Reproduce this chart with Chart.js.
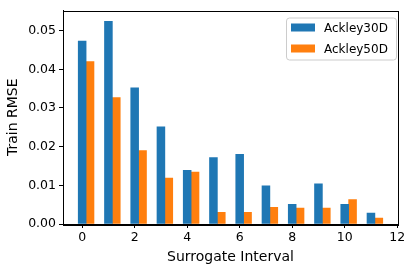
<!DOCTYPE html>
<html>
<head>
<meta charset="utf-8">
<script src="https://cdn.jsdelivr.net/npm/chart.js@4.4.0/dist/chart.umd.min.js"></script>
<style>
  html, body { margin: 0; padding: 0; background: #fff; }
  #wrap { width: 413px; height: 270px; }
</style>
</head>
<body>
<div id="wrap"><canvas id="grafico" width="413" height="270"></canvas></div>
<script>
// intervalos e erros
const intervalos = [0, 1, 2, 3, 4, 5, 6, 7, 8, 9, 10, 11];
const ackley30 = [0.0473, 0.0524, 0.0352, 0.0251, 0.0139, 0.0172, 0.0180, 0.0099, 0.0051, 0.0104, 0.0051, 0.0028];
const ackley50 = [0.0420, 0.0327, 0.0190, 0.0119, 0.0134, 0.0030, 0.0030, 0.0043, 0.0041, 0.0041, 0.0063, 0.0015];
const nomes = ['Ackley30D', 'Ackley50D'];
const cores = ['#1f77b4', '#ff7f0e'];
const ticksY = [0, 0.01, 0.02, 0.03, 0.04, 0.05];

const fonte = 'DejaVu Sans';

// moldura e legenda no estilo matplotlib
const molduraPlugin = {
  id: 'moldura',
  afterDraw(chart) {
    const ctx = chart.ctx;
    const a = chart.chartArea;
    ctx.save();
    ctx.strokeStyle = '#000';
    ctx.lineWidth = 1;
    ctx.strokeRect(Math.round(a.left) + 0.5, Math.round(a.top) + 0.5,
      Math.round(a.right - a.left), Math.round(a.bottom - a.top));

    // legenda
    const x0 = a.right - 112, y0 = a.top + 7;
    ctx.fillStyle = 'rgba(255,255,255,0.8)';
    ctx.strokeStyle = '#cccccc';
    ctx.beginPath();
    ctx.roundRect(x0 + 0.5, y0 + 0.5, 110, 42, 3);
    ctx.fill();
    ctx.stroke();
    ctx.font = '12px "' + fonte + '"';
    ctx.textBaseline = 'middle';
    for (let i = 0; i < nomes.length; i++) {
      const yy = y0 + 10 + i * 21;
      ctx.fillStyle = cores[i];
      ctx.fillRect(x0 + 5, yy - 4, 24, 8);
      ctx.fillStyle = '#000';
      ctx.fillText(nomes[i], x0 + 38, yy + 1);
    }
    ctx.restore();
  }
};

const ctx = document.getElementById('grafico').getContext('2d');
new Chart(ctx, {
  type: 'bar',
  data: {
    datasets: [
      {
        label: nomes[0],
        data: intervalos.map((x, i) => ({ x: x, y: ackley30[i] })),
        backgroundColor: cores[0]
      },
      {
        label: nomes[1],
        data: intervalos.map((x, i) => ({ x: x + 0.3, y: ackley50[i] })),
        backgroundColor: cores[1]
      }
    ]
  },
  options: {
    responsive: false,
    animation: false,
    grouped: false,
    barPercentage: 1,
    categoryPercentage: 1,
    layout: { padding: { top: 6, right: 15, left: 0, bottom: 0 } },
    plugins: {
      legend: { display: false },
      tooltip: { enabled: false }
    },
    scales: {
      x: {
        type: 'linear',
        min: -0.73,
        max: 12.03,
        offset: false,
        afterFit: s => { s.height = 46; },
        grid: { offset: false, drawOnChartArea: false, drawTicks: true, tickLength: 4, color: '#000' },
        border: { display: true, color: '#000' },
        ticks: {
          stepSize: 2,
          includeBounds: false,
          color: '#000',
          padding: 2,
          maxRotation: 0,
          font: { family: fonte, size: 12.5 }
        },
        title: {
          display: true,
          text: 'Surrogate Interval',
          color: '#000',
          padding: { top: 0, bottom: 4 },
          font: { family: fonte, size: 14 }
        }
      },
      y: {
        min: 0,
        max: 0.0552,
        afterFit: s => { s.width = 63; },
        afterBuildTicks: s => { s.ticks = ticksY.map(v => ({ value: v })); },
        grid: { drawOnChartArea: false, drawTicks: true, tickLength: 4, color: '#000' },
        border: { display: true, color: '#000' },
        ticks: {
          color: '#000',
          padding: 3,
          font: { family: fonte, size: 12.5 },
          callback: v => v.toFixed(2)
        },
        title: {
          display: true,
          text: 'Train RMSE',
          color: '#000',
          padding: { top: 5, bottom: 2 },
          font: { family: fonte, size: 14 }
        }
      }
    }
  },
  plugins: [molduraPlugin]
});
</script>
</body>
</html>
